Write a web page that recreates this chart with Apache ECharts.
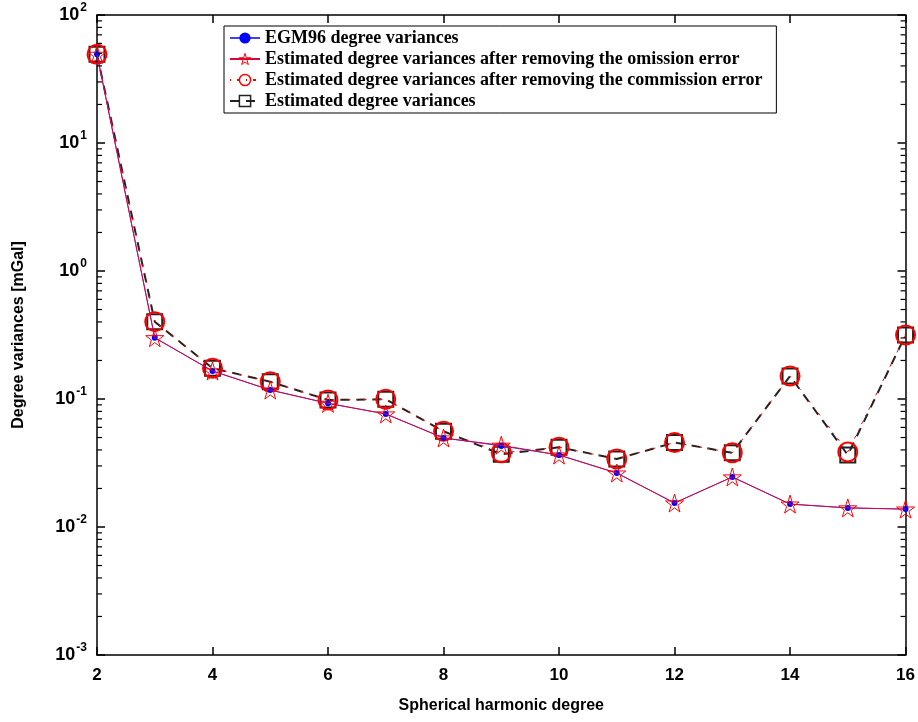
<!DOCTYPE html>
<html>
<head>
<meta charset="utf-8">
<script src="https://cdn.jsdelivr.net/npm/echarts@6/dist/echarts.min.js"></script>
<style>
html,body{margin:0;padding:0;background:#fff;}
#chart{width:918px;height:722px;}
</style>
</head>
<body>
<div id="chart"></div>
<script>
const degrees = [2, 3, 4, 5, 6, 7, 8, 9, 10, 11, 12, 13, 14, 15, 16];
const egm96 = [49.3, 0.301, 0.1655, 0.1175, 0.0925, 0.0764, 0.0496, 0.0430, 0.0365, 0.0264, 0.0154, 0.0246, 0.0151, 0.0141, 0.0138];
const afterOmission = [49.3, 0.301, 0.1655, 0.1175, 0.0925, 0.0764, 0.0496, 0.0435, 0.0365, 0.0264, 0.0154, 0.0246, 0.0151, 0.0141, 0.0138];
const afterCommission = [49.3, 0.402, 0.174, 0.1365, 0.0982, 0.0995, 0.056, 0.0380, 0.042, 0.034, 0.0457, 0.038, 0.151, 0.0386, 0.316];
const estimated = [49.3, 0.402, 0.174, 0.1365, 0.0982, 0.0995, 0.056, 0.0370, 0.042, 0.034, 0.0457, 0.038, 0.151, 0.0365, 0.316];
const seriesNames = [
  'EGM96 degree variances',
  'Estimated degree variances after removing the omission error',
  'Estimated degree variances after removing the commission error',
  'Estimated degree variances'
];
const xTicks = [2, 4, 6, 8, 10, 12, 14, 16];
const yExponents = [-3, -2, -1, 0, 1, 2];
const minorMantissas = [2, 3, 4, 5, 6, 7, 8, 9];

const pairs = arr => degrees.map((d, i) => [d, arr[i]]);
const minorTickValues = [];
yExponents.slice(0, -1).forEach(e => minorMantissas.forEach(m => minorTickValues.push(m * Math.pow(10, e))));

const starPath = 'path://M50,0 L61,35 L98,35 L68,57 L79,91 L50,70 L21,91 L32,57 L2,35 L39,35 Z';
const sansFont = '"Liberation Sans", Arial, sans-serif';
const serifFont = '"Liberation Serif", "Times New Roman", serif';
const hollow = (c, w) => ({color: 'rgba(255,255,255,0)', borderColor: c, borderWidth: w});

const chart = echarts.init(document.getElementById('chart'));

chart.setOption({
  animation: false,
  grid: {left: 97, right: 12, top: 15, bottom: 67},
  legend: {
    orient: 'vertical',
    left: 224, top: 26,
    padding: [3, 14, 3, 5],
    itemGap: 3,
    itemWidth: 30, itemHeight: 14,
    backgroundColor: '#fff',
    borderColor: '#000', borderWidth: 1,
    textStyle: {fontFamily: serifFont, fontWeight: 'bold', fontSize: 18, color: '#000'},
    data: [
      {name: seriesNames[0], itemStyle: {color: '#0000ff', borderWidth: 0}},
      {name: seriesNames[1], itemStyle: hollow('#ff0000', 1)},
      {name: seriesNames[2], itemStyle: hollow('#ff0000', 1.5)},
      {name: seriesNames[3], itemStyle: hollow('#222', 1.5)}
    ]
  },
  xAxis: [
    {
      type: 'value', min: 2, max: 16, interval: 2, position: 'bottom',
      axisLine: {show: true, onZero: false, lineStyle: {color: '#000', width: 1.5}},
      axisTick: {show: true, inside: true, length: 8, lineStyle: {color: '#000', width: 1.5}},
      splitLine: {show: false},
      axisLabel: {show: true, margin: 12, fontFamily: sansFont, fontWeight: 'bold', fontSize: 17, color: '#000',
        formatter: v => xTicks.indexOf(v) >= 0 ? String(v) : ''},
      name: 'Spherical harmonic degree', nameLocation: 'middle', nameGap: 43,
      nameTextStyle: {fontFamily: sansFont, fontWeight: 'bold', fontSize: 16, color: '#000'}
    },
    {
      type: 'value', min: 2, max: 16, interval: 2, position: 'top',
      axisLine: {show: true, onZero: false, lineStyle: {color: '#000', width: 1.5}},
      axisTick: {show: true, inside: true, length: 8, lineStyle: {color: '#000', width: 1.5}},
      splitLine: {show: false}, axisLabel: {show: false}
    }
  ],
  yAxis: [
    {
      type: 'log', min: 0.001, max: 100, position: 'left',
      axisLine: {show: true, onZero: false, lineStyle: {color: '#000', width: 1.5}},
      axisTick: {show: true, inside: true, length: 8, lineStyle: {color: '#000', width: 1.5}},
      splitLine: {show: false},
      axisLabel: {
        show: true, margin: 10, color: '#000',
        formatter: v => {
          const e = Math.round(Math.log10(v));
          if (yExponents.indexOf(e) < 0) return '';
          return '{b|10}{s|' + e + '}';
        },
        rich: {
          b: {fontFamily: sansFont, fontWeight: 'bold', fontSize: 18, color: '#000'},
          s: {fontFamily: sansFont, fontWeight: 'bold', fontSize: 12, color: '#000', verticalAlign: 'bottom', padding: [0, 0, 14, 1]}
        }
      },
      name: 'Degree variances [mGal]', nameLocation: 'middle', nameGap: 70, nameRotate: 90,
      nameTextStyle: {fontFamily: sansFont, fontWeight: 'bold', fontSize: 16, color: '#000'}
    },
    {
      type: 'log', min: 0.001, max: 100, position: 'right',
      axisLine: {show: true, onZero: false, lineStyle: {color: '#000', width: 1.5}},
      axisTick: {show: true, inside: true, length: 8, lineStyle: {color: '#000', width: 1.5}},
      splitLine: {show: false}, axisLabel: {show: false}
    }
  ],
  series: [
    {
      type: 'custom', clip: false, z: 10, silent: true,
      data: minorTickValues.map(v => [2, v]),
      renderItem: (params, api) => {
        const v = api.value(1);
        const pL = api.coord([2, v]);
        const pR = api.coord([16, v]);
        const st = {stroke: '#000', lineWidth: 1.2};
        return {
          type: 'group',
          children: [
            {type: 'line', shape: {x1: pL[0], y1: pL[1], x2: pL[0] + 5, y2: pL[1]}, style: st},
            {type: 'line', shape: {x1: pR[0], y1: pR[1], x2: pR[0] - 5, y2: pR[1]}, style: st}
          ]
        };
      }
    },
    {
      name: seriesNames[3], type: 'line', data: pairs(estimated), z: 2,
      symbol: 'rect', symbolSize: 15,
      itemStyle: hollow('#222', 2),
      lineStyle: {color: '#222', width: 2, type: [9, 7]}
    },
    {
      name: seriesNames[2], type: 'line', data: pairs(afterCommission), z: 3,
      symbol: 'circle', symbolSize: 19,
      itemStyle: hollow('#ff0000', 2),
      lineStyle: {color: '#ff0000', width: 1, type: [1, 6, 3, 6]}
    },
    {
      name: seriesNames[0], type: 'line', data: pairs(egm96), z: 4,
      symbol: 'circle', symbolSize: 6,
      itemStyle: {color: '#0000ff', borderColor: '#0000ff', borderWidth: 0},
      lineStyle: {color: '#4040ff', width: 1}
    },
    {
      name: seriesNames[1], type: 'line', data: pairs(afterOmission), z: 5,
      symbol: starPath, symbolSize: 18,
      itemStyle: hollow('#ff0000', 1),
      lineStyle: {color: '#e0003a', width: 1}
    }
  ]
});
</script>
</body>
</html>
